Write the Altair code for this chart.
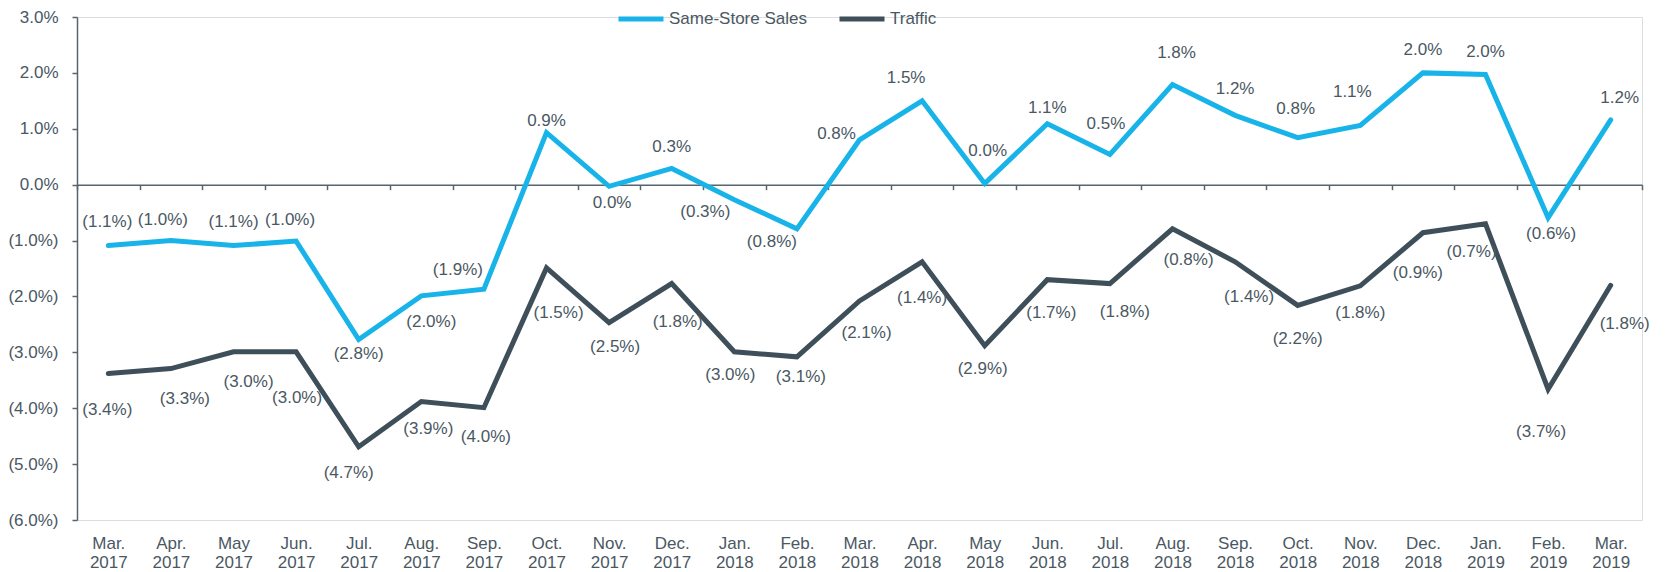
import altair as alt
import pandas as pd

months = ["Mar. 2017", "Apr. 2017", "May 2017", "Jun. 2017", "Jul. 2017", "Aug. 2017",
          "Sep. 2017", "Oct. 2017", "Nov. 2017", "Dec. 2017", "Jan. 2018", "Feb. 2018",
          "Mar. 2018", "Apr. 2018", "May 2018", "Jun. 2018", "Jul. 2018", "Aug. 2018",
          "Sep. 2018", "Oct. 2018", "Nov. 2018", "Dec. 2018", "Jan. 2019", "Feb. 2019",
          "Mar. 2019"]

same_store_sales = [-1.09, -1.00, -1.09, -1.01, -2.77, -1.99, -1.87, 0.93, -0.03, 0.29,
                    -0.27, -0.79, 0.80, 1.50, 0.02, 1.09, 0.54, 1.79, 1.24, 0.84,
                    1.06, 2.00, 1.97, -0.59, 1.16]

traffic = [-3.38, -3.29, -2.99, -2.99, -4.69, -3.88, -3.99, -1.49, -2.47, -1.77,
           -2.99, -3.08, -2.08, -1.38, -2.88, -1.70, -1.77, -0.79, -1.38, -2.16,
           -1.81, -0.86, -0.70, -3.66, -1.80]

series_names = ["Same-Store Sales", "Traffic"]
series_colors = ["#18B4E9", "#3E4F5A"]

# label placement offsets in pixels (dx, dy) relative to each point
sss_label_dx = [-1, -8, 0, -6, 0, 10, -26, 0, 3, 0, -29, -25, -23, -16, 3, 0, -4, 4, 0, -2, -8, 0, 0, 3, 9]
sss_label_dy = [-24, -21, -24, -21, 15, 26, -19, -12, 17, -21, 12, 13, -6, -23, -33, -16, -30, -32, -26, -29, -33, -23, -23, 16, -22]
trf_label_dx = [-1, 14, 15, 1, -10, 7, 2, 12, 6, 6, -4, 4, 7, 0, -2, 4, 15, 16, 14, 0, 0, -5, -14, -7, 14]
trf_label_dy = [36, 30, 30, 46, 26, 27, 29, 45, 24, 38, 23, 20, 32, 36, 23, 33, 28, 31, 35, 34, 27, 40, 28, 43, 39]

W, H = 1565, 503
N = len(months)
XU = W / N          # pixels per category
YU = H / 9.0        # pixels per percentage point

rows = []
for i, m in enumerate(months):
    rows.append(dict(series=series_names[0], i=i, month=m, value=same_store_sales[i],
                     ldx=sss_label_dx[i], ldy=sss_label_dy[i]))
for i, m in enumerate(months):
    rows.append(dict(series=series_names[1], i=i, month=m, value=traffic[i],
                     ldx=trf_label_dx[i], ldy=trf_label_dy[i]))
df = pd.DataFrame(rows)

FONT = "Liberation Sans"
TXT = "#4A5863"
AX = "#56656F"
FS = 17

month_list = "[" + ",".join("'" + m + "'" for m in months) + "]"
x_label_expr = f"datum.value < {N - 1} ? split({month_list}[round(datum.value + 0.5)], ' ') : ''"

x_scale = alt.Scale(domain=[-0.5, N - 0.5], nice=False, zero=False)
y_scale = alt.Scale(domain=[-6, 3], nice=False, zero=False)

x_axis = alt.Axis(
    title=None, orient="bottom", offset=-(H * 6 / 9), values=[k - 0.5 for k in range(N + 1)],
    tickSize=5, tickColor=AX, tickWidth=1.5, domainColor=AX, domainWidth=1.5,
    labelExpr=x_label_expr, labelOffset=XU / 2, labelPadding=346, labelFont=FONT,
    labelFontSize=FS, labelColor=TXT, labelOverlap=False, labelFlush=False, labelBound=False,
    labelLineHeight=19, grid=False,
)
y_axis = alt.Axis(
    title=None, values=list(range(-6, 4)), tickSize=5, tickColor=AX, tickWidth=1.5,
    domainColor=AX, domainWidth=1.5, labelPadding=14, labelFont=FONT, labelFontSize=FS,
    labelColor=TXT, grid=False,
    labelExpr="datum.value < 0 ? '(' + format(-datum.value, '.1f') + '%)' : format(datum.value, '.1f') + '%'",
)

base = alt.Chart(df)

lines = base.mark_line(strokeWidth=5, strokeCap="round", strokeJoin="miter").encode(
    x=alt.X("i:Q", scale=x_scale, axis=x_axis),
    y=alt.Y("value:Q", scale=y_scale, axis=y_axis),
    color=alt.Color("series:N", scale=alt.Scale(domain=series_names, range=series_colors),
                    legend=alt.Legend(title=None, orient="none", legendX=539, legendY=-23,
                                      direction="horizontal", symbolType="stroke",
                                      symbolSize=2025, symbolStrokeWidth=5,
                                      labelFont=FONT, labelFontSize=FS, labelColor=TXT,
                                      labelOffset=3, columnPadding=22)),
    order="i:Q",
)

labels = base.transform_calculate(
    lx=f"datum.i + datum.ldx / {XU}",
    ly=f"datum.value - datum.ldy / {YU}",
    label="datum.value <= -0.05 ? '(' + format(-datum.value, '.1f') + '%)' : format(abs(datum.value), '.1f') + '%'",
).mark_text(font=FONT, fontSize=FS, color=TXT, align="center", baseline="middle").encode(
    x=alt.X("lx:Q", scale=x_scale, title=None),
    y=alt.Y("ly:Q", scale=y_scale, title=None),
    text="label:N",
)

chart = alt.layer(lines, labels).properties(
    width=W, height=H,
    autosize=alt.AutoSizeParams(type="none"),
    padding={"left": 77, "top": 17, "right": 25, "bottom": 52},
).configure_view(stroke=None).configure(background="white")

chart.save("out.html", embed_options={"renderer": "svg", "actions": False})
